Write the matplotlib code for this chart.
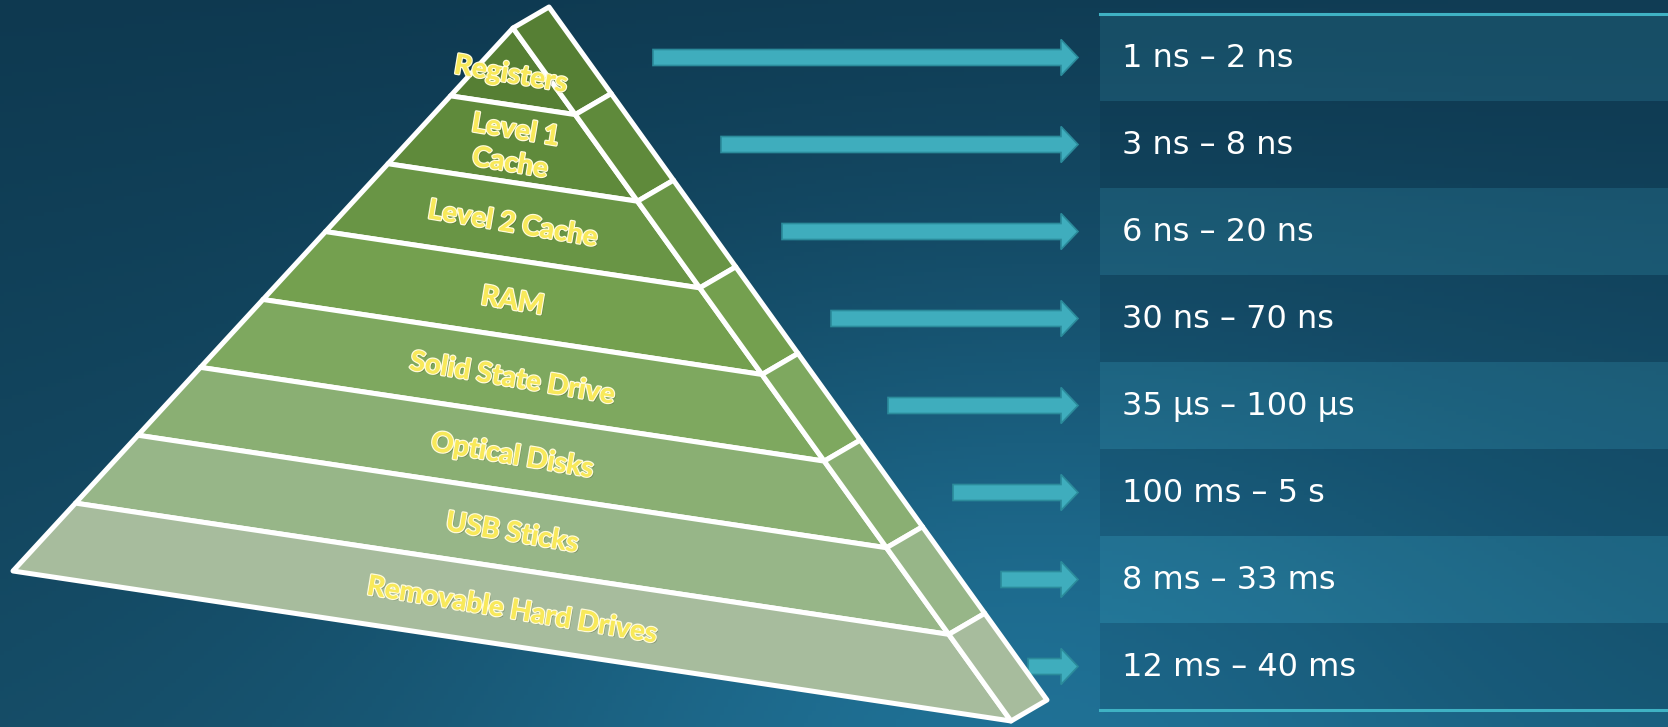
import matplotlib
matplotlib.use("Agg")
from matplotlib import pyplot as plt
from matplotlib.patches import Polygon, Rectangle, FancyArrow
import matplotlib.patheffects as pe
import numpy as np

plt.rcParams['font.family'] = ['DejaVu Sans']

# memory hierarchy, fastest first
levels = ['Registers', 'Level 1\nCache', 'Level 2 Cache', 'RAM',
          'Solid State Drive', 'Optical Disks', 'USB Sticks',
          'Removable Hard Drives']
latency = ['1 ns – 2 ns', '3 ns – 8 ns', '6 ns – 20 ns', '30 ns – 70 ns',
           '35 μs – 100 μs', '100 ms – 5 s', '8 ms – 33 ms', '12 ms – 40 ms']
layer_colors = ['#567f34', '#5f8a3b', '#699545', '#74a04f',
                '#7ea85f', '#8aaf73', '#97b688', '#a7bc9d']

# layout (pixel space)
W, H = 1668, 727
apex, left, right = np.array([513, 28]), np.array([13, 571]), np.array([1011, 721])
depth = np.array([36, -21])
arrow_tail = [653, 721, 782, 831, 888, 953, 1001, 1028]
arrow_tip = 1078
table_x, table_top, row_h = 1100, 14, 87


def background():
    yy, xx = np.mgrid[0:H:4, 0:W:4]
    u, v = xx / W, yy / H
    tl, tr = np.array([14, 57, 80]), np.array([16, 60, 84])
    bl, br = np.array([21, 76, 102]), np.array([24, 90, 120])
    top = tl + (tr - tl) * u[..., None]
    bot = bl + (br - bl) * u[..., None]
    base = top + (bot - top) * v[..., None]
    d2 = (xx - 1020) ** 2 + ((yy - 760) * 1.3) ** 2
    g = np.exp(-d2 / (2 * 380.0 ** 2))[..., None]
    glow = np.array([33, 118, 156])
    img = base * (1 - 0.85 * g) + glow * 0.85 * g
    return img / 255.0


def main():
    fig = plt.figure(figsize=(W / 100, H / 100), dpi=100)
    ax = fig.add_axes([0, 0, 1, 1])
    ax.set_xlim(0, W)
    ax.set_ylim(H, 0)
    ax.axis('off')
    ax.imshow(background(), extent=[0, W, H, 0], aspect='auto', zorder=0)

    # table rows
    n = len(latency)
    for i, txt in enumerate(latency):
        y0 = table_top + i * row_h
        if i % 2 == 0:
            ax.add_patch(Rectangle((table_x, y0), W - table_x, row_h,
                                   facecolor='#45b0c8', alpha=0.15, lw=0, zorder=1))
        else:
            ax.add_patch(Rectangle((table_x, y0), W - table_x, row_h,
                                   facecolor='#061e30', alpha=0.12, lw=0, zorder=1))
        ax.text(table_x + 22, y0 + row_h / 2 + 1, txt, color='white',
                fontsize=23, va='center', ha='left', zorder=3)
    for yl in (table_top, table_top + n * row_h):
        ax.plot([table_x, W], [yl, yl], color='#3fb2c4', lw=2.2, zorder=2)

    # arrows
    for i, x0 in enumerate(arrow_tail):
        yc = table_top + (i + 0.5) * row_h
        ax.add_patch(FancyArrow(x0, yc, arrow_tip - x0, 0, width=16,
                                head_width=36, head_length=17,
                                length_includes_head=True,
                                facecolor='#3fadbd', edgecolor='#2b8b9b',
                                lw=1.2, zorder=2))

    # pyramid
    back_apex, back_right = apex + depth, right + depth
    for k in range(n):
        t0, t1 = k / n, (k + 1) / n
        l0, l1 = apex + t0 * (left - apex), apex + t1 * (left - apex)
        r0, r1 = apex + t0 * (right - apex), apex + t1 * (right - apex)
        b0 = back_apex + t0 * (back_right - back_apex)
        b1 = back_apex + t1 * (back_right - back_apex)
        ax.add_patch(Polygon([l0, l1, r1, r0], closed=True,
                             facecolor=layer_colors[k], edgecolor='white',
                             lw=3.6, joinstyle='round', zorder=4))
        ax.add_patch(Polygon([r0, r1, b1, b0], closed=True,
                             facecolor=layer_colors[k], edgecolor='white',
                             lw=3.6, joinstyle='round', zorder=4))
        tm = (t0 + t1) / 2
        c = apex + tm * ((left + right) / 2 - apex)
        if k == 0:
            c = c + np.array([-2, 5])
        ax.text(c[0], c[1] + 3, levels[k], color='#f8e95a', fontsize=20,
                fontweight='bold', family=['Lato', 'DejaVu Sans'],
                ha='center', va='center', rotation=-9.5, linespacing=1.35,
                zorder=5,
                path_effects=[pe.withSimplePatchShadow(offset=(1.2, -1.2),
                                                       shadow_rgbFace='#3a4a20',
                                                       alpha=0.35),
                              pe.withStroke(linewidth=2.0, foreground='#fffbd8'),
                              pe.Normal()])

    plt.savefig('out.png', dpi=100)


if __name__ == '__main__':
    main()
